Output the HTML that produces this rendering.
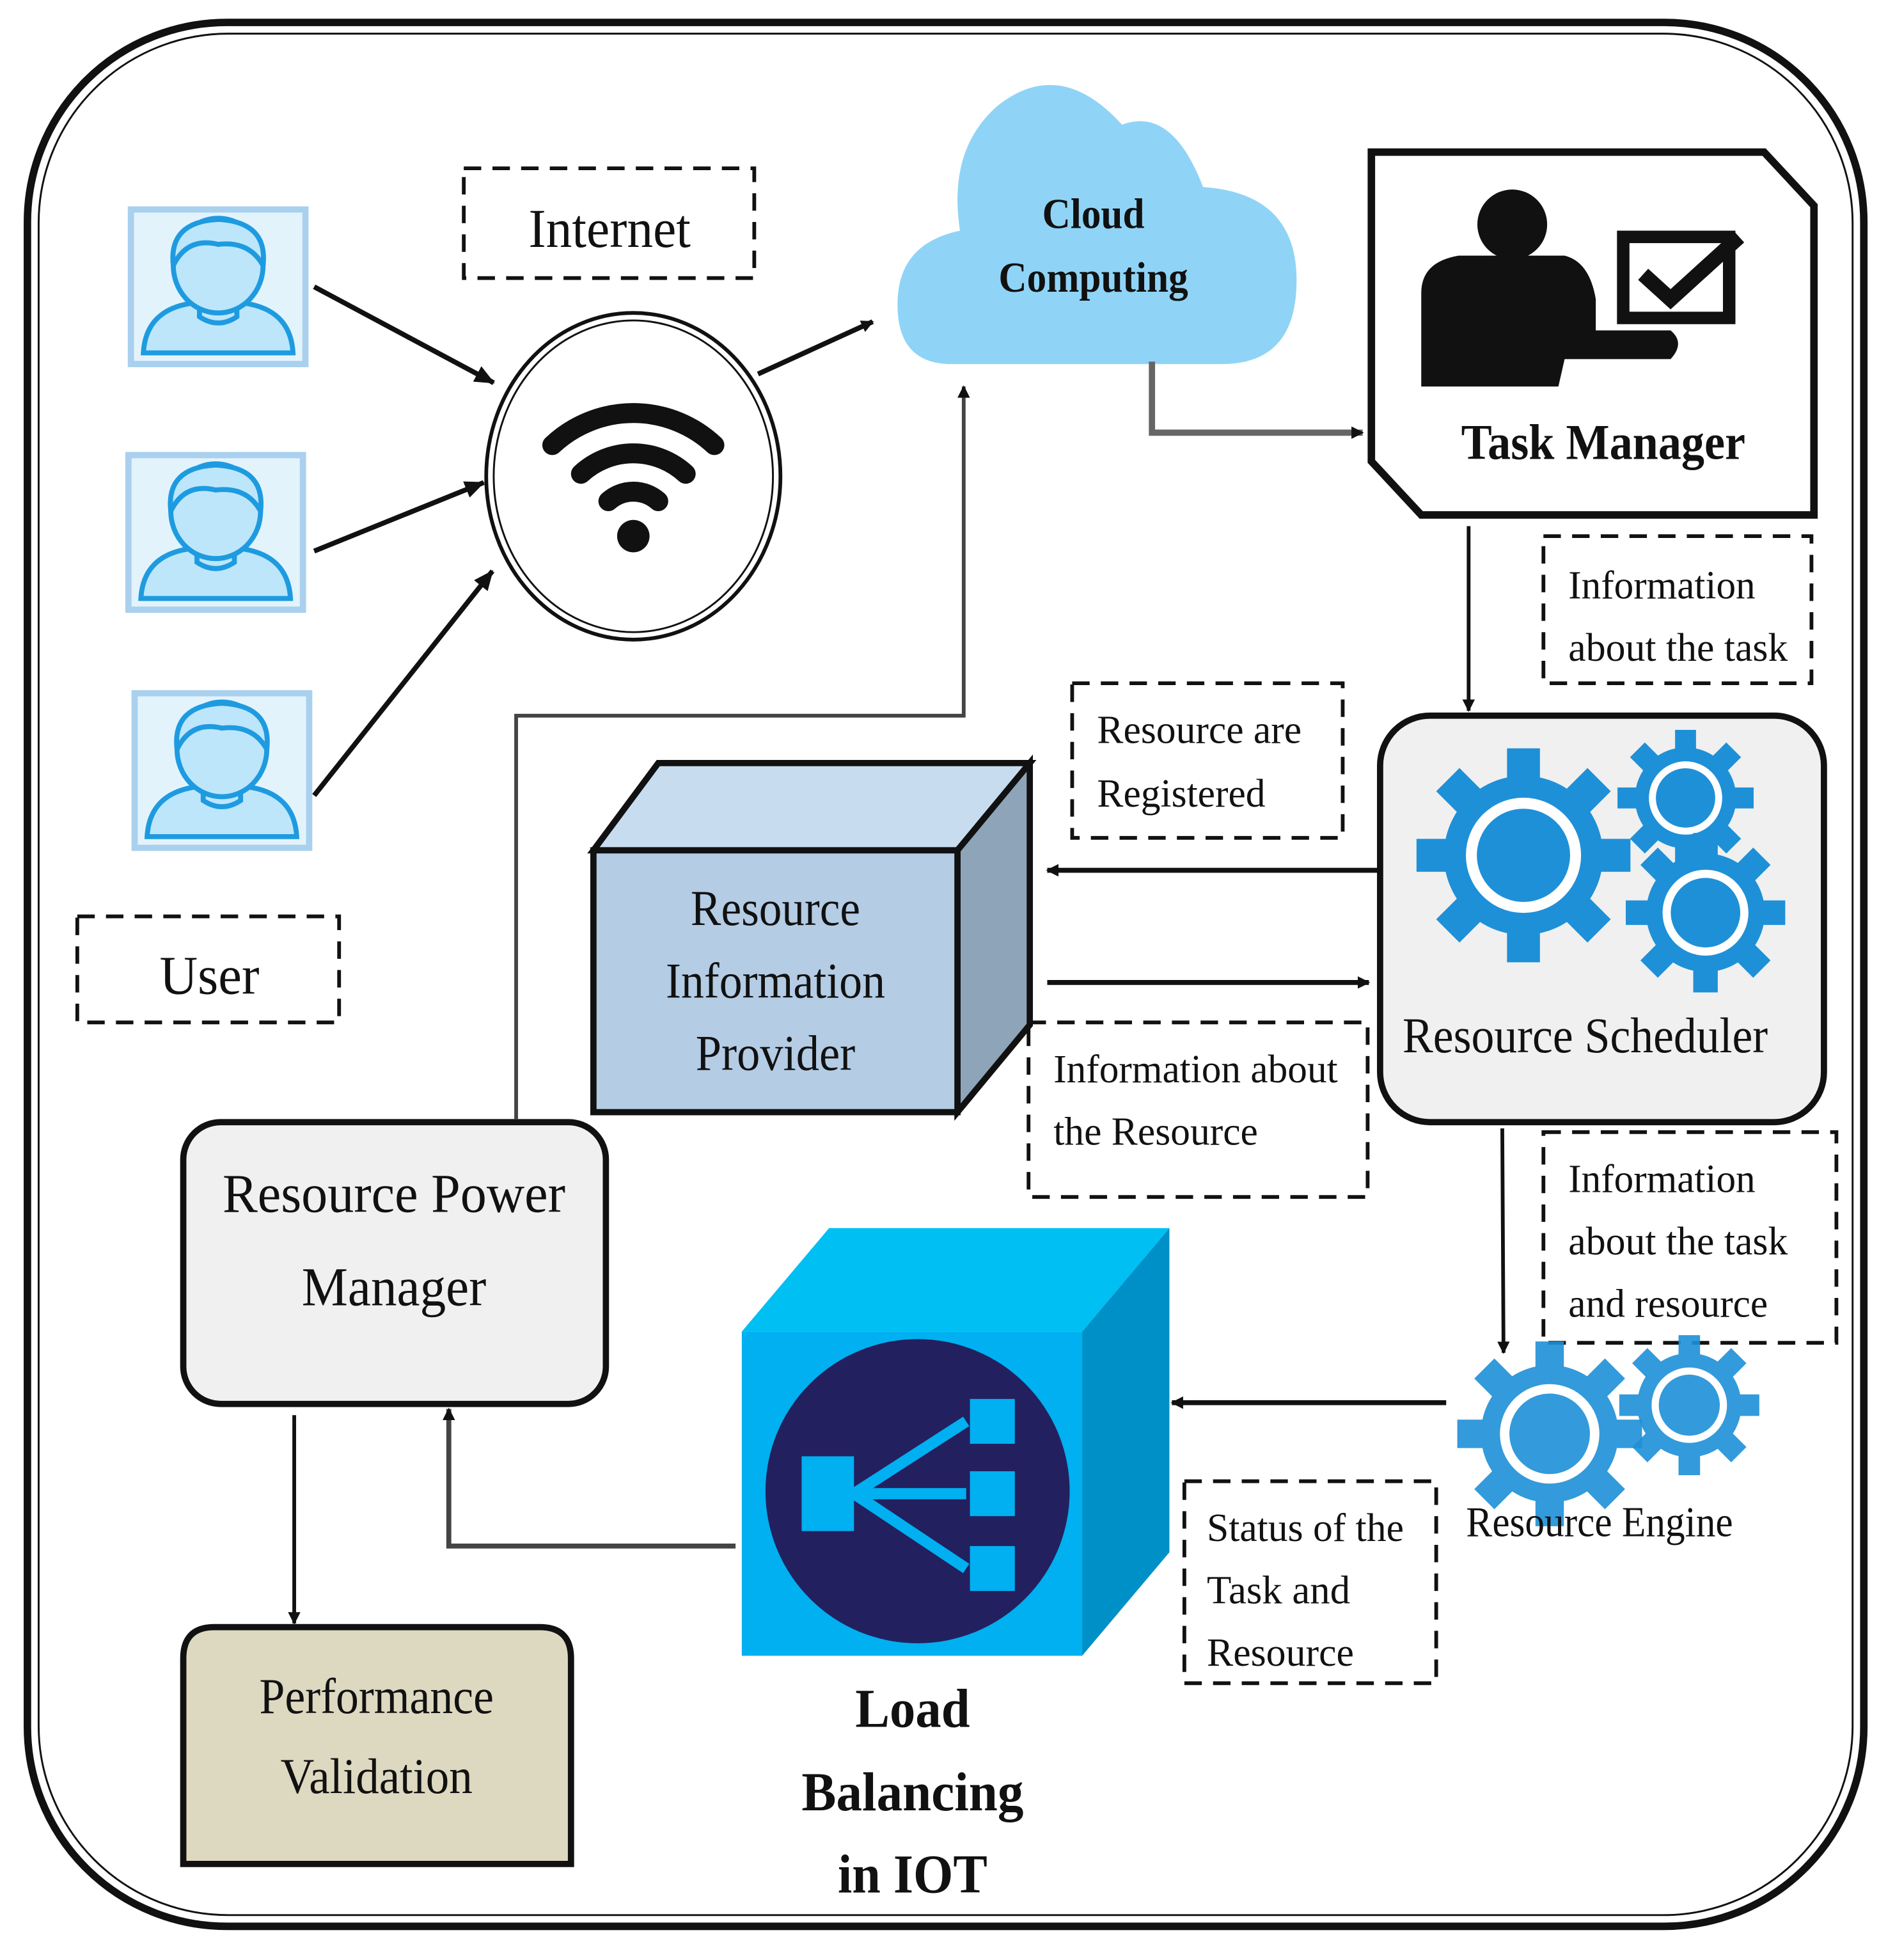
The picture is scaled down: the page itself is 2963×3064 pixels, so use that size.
<!DOCTYPE html>
<html><head><meta charset="utf-8"><style>
html,body{margin:0;padding:0;background:#fff}
svg{display:block}
text{font-family:"Liberation Serif",serif;fill:#111}
</style></head><body>
<svg width="2963" height="3064" viewBox="0 0 1520 1572" preserveAspectRatio="none" xmlns="http://www.w3.org/2000/svg">
<defs>
<marker id="ah" markerWidth="10" markerHeight="10" refX="9" refY="5" orient="auto" markerUnits="userSpaceOnUse"><path d="M0,0 L10,5 L0,10 z" fill="#111"/></marker>
<marker id="ah2" markerWidth="16" markerHeight="14" refX="15" refY="7" orient="auto" markerUnits="userSpaceOnUse"><path d="M0,0 L16,7 L0,14 z" fill="#111"/></marker>
<g id="user">
<rect x="0" y="0" width="140" height="124" fill="#e3f3fc" stroke="#a9d0ee" stroke-width="5"/>
<path d="M10,115 Q12,80 50,75 L90,75 Q128,80 130,115 Z" fill="#bde6fb" stroke="#1e9be0" stroke-width="4"/>
<path d="M55,72 L55,86 Q70,96 85,86 L85,72" fill="#bde6fb" stroke="#1e9be0" stroke-width="4"/>
<ellipse cx="70" cy="45" rx="36" ry="38" fill="#bde6fb" stroke="#1e9be0" stroke-width="4"/>
<path d="M34,45 Q30,10 70,8 Q110,10 106,45 Q95,25 70,28 Q45,22 34,45 Z" fill="#bde6fb" stroke="#1e9be0" stroke-width="4"/>
</g>
<g id="gear"><circle r="58" fill="#1e90d8"/>
<g fill="#1e90d8"><rect x="-12" y="-78" width="24" height="156"/><rect x="-12" y="-78" width="24" height="156" transform="rotate(45)"/><rect x="-12" y="-78" width="24" height="156" transform="rotate(90)"/><rect x="-12" y="-78" width="24" height="156" transform="rotate(135)"/></g>
<circle r="42" fill="#fff"/><circle r="34" fill="#1e90d8"/></g>
</defs>
<rect x="0" y="0" width="1520" height="1572" fill="#fff"/>
<rect x="22" y="18" width="1473" height="1527" rx="160" fill="none" stroke="#111" stroke-width="6"/>
<rect x="31" y="27" width="1455" height="1509" rx="152" fill="none" stroke="#111" stroke-width="1.5"/>

<use href="#user" x="105" y="168"/>
<use href="#user" x="103" y="365"/>
<use href="#user" x="108" y="556"/>

<g fill="none" stroke="#111" stroke-width="3" stroke-dasharray="14,9">
<rect x="372" y="135" width="233" height="88"/>
<rect x="62" y="735" width="210" height="85"/>
<rect x="1238" y="430" width="215" height="118"/>
<rect x="860" y="548" width="217" height="124"/>
<rect x="825" y="820" width="272" height="140"/>
<rect x="1238" y="908" width="235" height="169"/>
<rect x="950" y="1188" width="202" height="162"/>
</g>
<text x="424" y="198" font-size="44" textLength="130" lengthAdjust="spacingAndGlyphs">Internet</text>
<text x="128" y="797" font-size="44" textLength="80" lengthAdjust="spacingAndGlyphs">User</text>
<text font-size="32"><tspan x="1258" y="480" textLength="150" lengthAdjust="spacingAndGlyphs">Information</tspan><tspan x="1258" y="530" textLength="176" lengthAdjust="spacingAndGlyphs">about the task</tspan></text>
<text font-size="32"><tspan x="880" y="596" textLength="164" lengthAdjust="spacingAndGlyphs">Resource are</tspan><tspan x="880" y="647" textLength="135" lengthAdjust="spacingAndGlyphs">Registered</tspan></text>
<text font-size="32"><tspan x="845" y="868" textLength="228" lengthAdjust="spacingAndGlyphs">Information about</tspan><tspan x="845" y="918" textLength="164" lengthAdjust="spacingAndGlyphs">the Resource</tspan></text>
<text font-size="32"><tspan x="1258" y="956" textLength="150" lengthAdjust="spacingAndGlyphs">Information</tspan><tspan x="1258" y="1006" textLength="176" lengthAdjust="spacingAndGlyphs">about the task</tspan><tspan x="1258" y="1056" textLength="160" lengthAdjust="spacingAndGlyphs">and resource</tspan></text>
<text font-size="32"><tspan x="968" y="1236" textLength="158" lengthAdjust="spacingAndGlyphs">Status of the</tspan><tspan x="968" y="1286" textLength="115" lengthAdjust="spacingAndGlyphs">Task and</tspan><tspan x="968" y="1336" textLength="118" lengthAdjust="spacingAndGlyphs">Resource</tspan></text>

<!-- wifi -->
<ellipse cx="508" cy="382" rx="118" ry="131" fill="#fff" stroke="#111" stroke-width="3"/>
<ellipse cx="508" cy="382" rx="112" ry="125" fill="none" stroke="#111" stroke-width="1.5"/>
<g fill="none" stroke="#111" stroke-width="16" stroke-linecap="round">
<path d="M443,357 A95,95 0 0 1 573,357"/>
<path d="M466,380 A62,62 0 0 1 550,380"/>
<path d="M488,402 A30,30 0 0 1 528,402"/>
</g>
<circle cx="508" cy="430" r="13" fill="#111"/>

<g stroke="#111" stroke-width="4" marker-end="url(#ah2)">
<line x1="252" y1="230" x2="396" y2="307"/>
<line x1="252" y1="442" x2="388" y2="387"/>
<line x1="252" y1="638" x2="395" y2="458"/>
</g>
<line x1="608" y1="300" x2="700" y2="258" stroke="#111" stroke-width="4" marker-end="url(#ah)"/>

<!-- cloud -->
<path d="M760,292 Q718,290 720,240 Q722,195 770,185 Q760,120 800,85 Q850,45 900,100 Q940,85 965,150 Q1040,155 1040,225 Q1040,292 980,292 Z" fill="#8fd4f6"/>
<text x="877" y="183" font-size="34" font-weight="bold" text-anchor="middle" textLength="82" lengthAdjust="spacingAndGlyphs">Cloud</text>
<text x="877" y="234" font-size="34" font-weight="bold" text-anchor="middle" textLength="152" lengthAdjust="spacingAndGlyphs">Computing</text>
<path d="M924,290 L924,347 L1093,347" fill="none" stroke="#666" stroke-width="5" marker-end="url(#ah)"/>

<!-- task manager -->
<path d="M1100,122 L1415,122 L1455,165 L1455,413 L1140,413 L1100,370 Z" fill="#fff" stroke="#111" stroke-width="6"/>
<circle cx="1213" cy="180" r="28" fill="#111"/>
<path d="M1140,310 L1140,235 Q1140,210 1170,205 L1255,205 Q1275,210 1280,240 L1280,265 L1340,265 Q1352,275 1340,288 L1255,288 L1250,310 Z" fill="#111"/>
<rect x="1302" y="190" width="85" height="65" fill="none" stroke="#111" stroke-width="10"/>
<path d="M1318,220 L1340,240 L1395,190" fill="none" stroke="#111" stroke-width="12"/>
<text x="1172" y="368" font-size="40" font-weight="bold" textLength="228" lengthAdjust="spacingAndGlyphs">Task Manager</text>
<line x1="1178" y1="422" x2="1178" y2="570" stroke="#111" stroke-width="3" marker-end="url(#ah)"/>

<!-- resource scheduler -->
<rect x="1107" y="574" width="356" height="326" rx="40" fill="#f0f0f0" stroke="#111" stroke-width="5"/>
<use href="#gear" transform="translate(1222,686) scale(1.1)"/>
<use href="#gear" transform="translate(1352,640) scale(0.7)"/>
<use href="#gear" transform="translate(1368,732) scale(0.82)"/>
<text x="1125" y="844" font-size="40" textLength="293" lengthAdjust="spacingAndGlyphs">Resource Scheduler</text>
<path d="M1105,698 L840,698" stroke="#111" stroke-width="4" marker-end="url(#ah)"/>
<path d="M840,788 L1098,788" stroke="#111" stroke-width="4" marker-end="url(#ah)"/>
<line x1="1205" y1="905" x2="1206" y2="1085" stroke="#111" stroke-width="3" marker-end="url(#ah)"/>

<!-- RIP cube -->
<polygon points="476,682 528,612 826,612 768,682" fill="#c7dcef" stroke="#111" stroke-width="5"/>
<polygon points="768,682 826,612 826,822 768,892" fill="#8ea4b8" stroke="#111" stroke-width="5"/>
<rect x="476" y="682" width="292" height="210" fill="#b4cce4" stroke="#111" stroke-width="5"/>
<text x="622" y="742" font-size="40" text-anchor="middle" textLength="136" lengthAdjust="spacingAndGlyphs">Resource</text>
<text x="622" y="800" font-size="40" text-anchor="middle" textLength="176" lengthAdjust="spacingAndGlyphs">Information</text>
<text x="622" y="858" font-size="40" text-anchor="middle" textLength="128" lengthAdjust="spacingAndGlyphs">Provider</text>

<!-- RPM -->
<rect x="147" y="900" width="339" height="226" rx="30" fill="#f0f0f0" stroke="#111" stroke-width="5"/>
<text x="316" y="972" font-size="44" text-anchor="middle" textLength="275" lengthAdjust="spacingAndGlyphs">Resource Power</text>
<text x="316" y="1047" font-size="44" text-anchor="middle" textLength="148" lengthAdjust="spacingAndGlyphs">Manager</text>
<path d="M414,898 L414,574 L773,574 L773,310" fill="none" stroke="#444" stroke-width="3" marker-end="url(#ah)"/>
<line x1="236" y1="1135" x2="236" y2="1302" stroke="#111" stroke-width="3" marker-end="url(#ah)"/>

<!-- performance validation -->
<path d="M147,1495 L147,1330 Q147,1305 172,1305 L433,1305 Q458,1305 458,1330 L458,1495 Z" fill="#ddd8c0" stroke="#111" stroke-width="5"/>
<text x="302" y="1374" font-size="40" text-anchor="middle" textLength="188" lengthAdjust="spacingAndGlyphs">Performance</text>
<text x="302" y="1438" font-size="40" text-anchor="middle" textLength="154" lengthAdjust="spacingAndGlyphs">Validation</text>

<!-- load balancing cube -->
<polygon points="595,1068 665,985 938,985 868,1068" fill="#00bff2"/>
<polygon points="868,1068 938,985 938,1245 868,1328" fill="#0090c8"/>
<rect x="595" y="1068" width="273" height="260" fill="#00b0f0"/>
<circle cx="736" cy="1196" r="122" fill="#232060"/>
<rect x="643" y="1168" width="42" height="60" fill="#00b0f0"/>
<rect x="778" y="1122" width="36" height="36" fill="#00b0f0"/>
<rect x="778" y="1180" width="36" height="36" fill="#00b0f0"/>
<rect x="778" y="1240" width="36" height="36" fill="#00b0f0"/>
<g stroke="#00b0f0" stroke-width="9"><line x1="685" y1="1198" x2="775" y2="1140"/><line x1="685" y1="1198" x2="775" y2="1198"/><line x1="685" y1="1198" x2="775" y2="1258"/></g>
<text x="732" y="1385" font-size="44" font-weight="bold" text-anchor="middle" textLength="92" lengthAdjust="spacingAndGlyphs">Load</text>
<text x="732" y="1452" font-size="44" font-weight="bold" text-anchor="middle" textLength="178" lengthAdjust="spacingAndGlyphs">Balancing</text>
<text x="732" y="1518" font-size="44" font-weight="bold" text-anchor="middle" textLength="120" lengthAdjust="spacingAndGlyphs">in IOT</text>
<path d="M590,1240 L360,1240 L360,1130" fill="none" stroke="#444" stroke-width="4" marker-end="url(#ah)"/>

<!-- resource engine -->
<use href="#gear" transform="translate(1243,1150) scale(0.95)" opacity="0.9"/>
<use href="#gear" transform="translate(1355,1127) scale(0.72)" opacity="0.9"/>
<text x="1176" y="1232" font-size="34" textLength="214" lengthAdjust="spacingAndGlyphs">Resource Engine</text>
<path d="M1160,1125 L940,1125" stroke="#111" stroke-width="4" marker-end="url(#ah)"/>
</svg>
</body></html>
